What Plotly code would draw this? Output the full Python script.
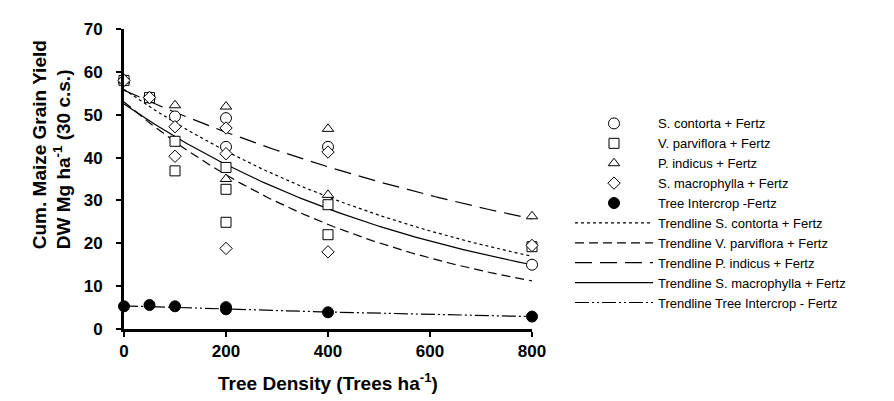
import numpy as np
import plotly.graph_objects as go

# ---- data ----
contorta_x = [0, 50, 100, 200, 200, 400, 800]
contorta_y = [58, 54, 49.6, 49.2, 42.5, 42.5, 15.0]

parviflora_x = [0, 50, 100, 100, 200, 200, 200, 400, 400, 800]
parviflora_y = [58, 54, 43.8, 36.9, 37.7, 32.6, 24.9, 29.0, 22.0, 19.2]

indicus_x = [0, 100, 200, 200, 400, 400, 800]
indicus_y = [58, 52.2, 51.9, 35.0, 46.7, 31.3, 26.3]

macrophylla_x = [0, 50, 100, 100, 200, 200, 200, 400, 400, 800]
macrophylla_y = [58, 54, 47.2, 40.3, 46.9, 40.9, 18.8, 41.3, 18.0, 19.5]

intercrop_x = [0, 50, 100, 200, 200, 400, 800]
intercrop_y = [5.3, 5.6, 5.3, 5.1, 4.6, 3.9, 2.9]

# exponential trendlines y = a * exp(b * x), parameters
trend_names = ["Trendline S. contorta + Fertz", "Trendline V. parviflora + Fertz",
               "Trendline P. indicus + Fertz", "Trendline S. macrophylla + Fertz",
               "Trendline Tree Intercrop - Fertz"]
trend_a = [55.9, 53.0, 55.7, 52.5, 5.4]
trend_b = [-0.00149, -0.00194, -0.000967, -0.001567, -0.000777]

x_ticks = [0, 200, 400, 600, 800]
y_ticks = [0, 10, 20, 30, 40, 50, 60, 70]

FONT = "Liberation Sans, Arial, sans-serif"

fig = go.Figure()

dashes = ["dot", "9px,5px", "17px,8px", "solid", "14px,3px,2px,3px,2px,3px"]
xs = np.linspace(0, 800, 200)
for i, (nm, a, b) in enumerate(zip(trend_names, trend_a, trend_b)):
    fig.add_trace(go.Scatter(
        x=xs, y=a * np.exp(b * xs), mode="lines", name=nm,
        line=dict(color="black", width=1.2, dash=dashes[i]),
        legendrank=6 + i, hoverinfo="skip"))

series = [
    ("S. contorta + Fertz", contorta_x, contorta_y, "circle", 11, "white"),
    ("V. parviflora + Fertz", parviflora_x, parviflora_y, "square", 10, "white"),
    ("P. indicus + Fertz", indicus_x, indicus_y, "triangle-up", 10, "white"),
    ("S. macrophylla + Fertz", macrophylla_x, macrophylla_y, "diamond", 9.5, "white"),
    ("Tree Intercrop -Fertz", intercrop_x, intercrop_y, "circle", 11, "black"),
]
for i, (nm, x, y, sym, sz, fill) in enumerate(series):
    fig.add_trace(go.Scatter(
        x=x, y=y, mode="markers", name=nm, cliponaxis=False,
        marker=dict(symbol=sym, size=sz, color=fill,
                    line=dict(color="black", width=1)),
        legendrank=1 + i))

W, H = 894, 401
L, R, T, B = 116, 524, 19, 321

fig.update_layout(
    width=W, height=H,
    margin=dict(l=L, r=W - R, t=T, b=H - B, pad=0),
    paper_bgcolor="white", plot_bgcolor="white",
    font=dict(family=FONT, color="black", size=13),
    showlegend=True,
    legend=dict(x=(562 - L) / (R - L), xanchor="left",
                y=1 - (99 - T) / (B - T), yanchor="top",
                font=dict(family=FONT, size=13, color="black"),
                itemwidth=78, tracegroupgap=0, bgcolor="rgba(0,0,0,0)",
                traceorder="normal"),
    xaxis=dict(range=[0, 800], tickvals=x_ticks, ticks="outside", ticklen=5,
               tickwidth=2, tickcolor="black", showline=True, linecolor="black",
               linewidth=3, showgrid=False, zeroline=False,
               tickfont=dict(family=FONT, size=17, weight="bold"),
               title=dict(text="Tree Density (Trees ha<sup>-1</sup>)",
                          font=dict(family=FONT, size=19, weight="bold"),
                          standoff=17)),
    yaxis=dict(range=[0, 70], tickvals=y_ticks, ticks="outside", ticklen=5,
               tickwidth=2, tickcolor="black", showline=True, linecolor="black",
               linewidth=3, showgrid=False, zeroline=False,
               ticklabelstandoff=10,
               tickfont=dict(family=FONT, size=17, weight="bold")),
)

fig.add_annotation(
    text="Cum. Maize Grain Yield<br>DW Mg ha<sup>-1</sup> (30 c.s.)",
    xref="paper", yref="paper",
    x=(44 - L) / (R - L), y=1 - (136 - T) / (B - T),
    xanchor="center", yanchor="middle", textangle=-90, align="left",
    showarrow=False, font=dict(family=FONT, size=19, weight="bold"))

fig.write_html("out.html")
